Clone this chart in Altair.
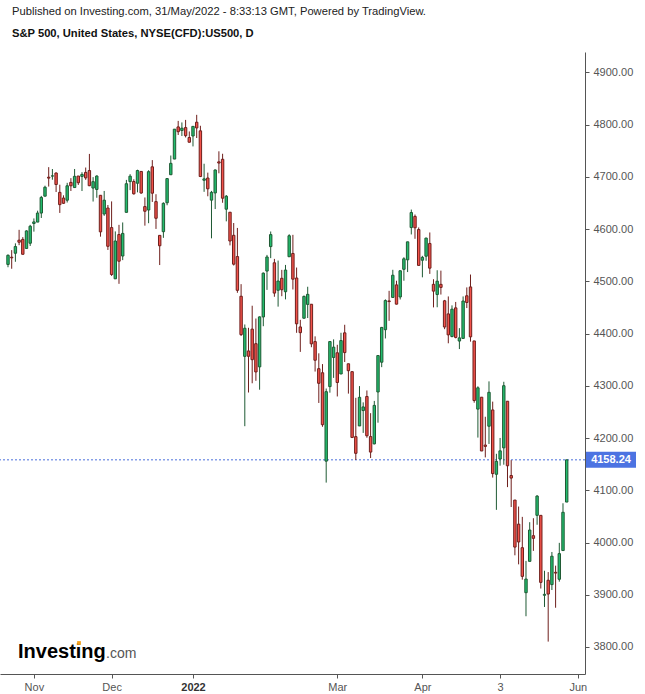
import altair as alt
import pandas as pd

# ---------------- data (S&P 500 daily) ----------------
dates = [
    "2021-10-21", "2021-10-22", "2021-10-25", "2021-10-26", "2021-10-27", "2021-10-28", "2021-10-29",
    "2021-11-01", "2021-11-02", "2021-11-03", "2021-11-04", "2021-11-05", "2021-11-08", "2021-11-09",
    "2021-11-10", "2021-11-11", "2021-11-12", "2021-11-15", "2021-11-16", "2021-11-17", "2021-11-18",
    "2021-11-19", "2021-11-22", "2021-11-23", "2021-11-24", "2021-11-26", "2021-11-29", "2021-11-30",
    "2021-12-01", "2021-12-02", "2021-12-03", "2021-12-06", "2021-12-07", "2021-12-08", "2021-12-09",
    "2021-12-10", "2021-12-13", "2021-12-14", "2021-12-15", "2021-12-16", "2021-12-17", "2021-12-20",
    "2021-12-21", "2021-12-22", "2021-12-23", "2021-12-27", "2021-12-28", "2021-12-29", "2021-12-30",
    "2021-12-31",
    "2022-01-03", "2022-01-04", "2022-01-05", "2022-01-06", "2022-01-07", "2022-01-10", "2022-01-11",
    "2022-01-12", "2022-01-13", "2022-01-14", "2022-01-18", "2022-01-19", "2022-01-20", "2022-01-21",
    "2022-01-24", "2022-01-25", "2022-01-26", "2022-01-27", "2022-01-28", "2022-01-31",
    "2022-02-01", "2022-02-02", "2022-02-03", "2022-02-04", "2022-02-07", "2022-02-08", "2022-02-09",
    "2022-02-10", "2022-02-11", "2022-02-14", "2022-02-15", "2022-02-16", "2022-02-17", "2022-02-18",
    "2022-02-22", "2022-02-23", "2022-02-24", "2022-02-25", "2022-02-28",
    "2022-03-01", "2022-03-02", "2022-03-03", "2022-03-04", "2022-03-07", "2022-03-08", "2022-03-09",
    "2022-03-10", "2022-03-11", "2022-03-14", "2022-03-15", "2022-03-16", "2022-03-17", "2022-03-18",
    "2022-03-21", "2022-03-22", "2022-03-23", "2022-03-24", "2022-03-25", "2022-03-28", "2022-03-29",
    "2022-03-30", "2022-03-31",
    "2022-04-01", "2022-04-04", "2022-04-05", "2022-04-06", "2022-04-07", "2022-04-08", "2022-04-11",
    "2022-04-12", "2022-04-13", "2022-04-14", "2022-04-18", "2022-04-19", "2022-04-20", "2022-04-21",
    "2022-04-22", "2022-04-25", "2022-04-26", "2022-04-27", "2022-04-28", "2022-04-29",
    "2022-05-02", "2022-05-03", "2022-05-04", "2022-05-05", "2022-05-06", "2022-05-09", "2022-05-10",
    "2022-05-11", "2022-05-12", "2022-05-13", "2022-05-16", "2022-05-17", "2022-05-18", "2022-05-19",
    "2022-05-20", "2022-05-23", "2022-05-24", "2022-05-25", "2022-05-26", "2022-05-27",
]

opens = [
    4532.24, 4546.12, 4553.69, 4578.69, 4580.22, 4562.84, 4572.87,
    4610.62, 4613.34, 4630.65, 4662.93, 4699.26, 4701.48, 4707.25,
    4670.26, 4659.39, 4655.24, 4689.30, 4679.42, 4701.50, 4700.72,
    4708.44, 4712.00, 4678.48, 4675.78, 4664.63, 4628.75, 4640.25,
    4602.82, 4504.73, 4589.49, 4548.37, 4631.97, 4690.86, 4691.00,
    4687.64, 4710.30, 4642.99, 4636.46, 4719.13, 4652.50, 4587.90,
    4594.96, 4650.36, 4703.96, 4733.99, 4795.49, 4788.64, 4794.23,
    4775.21,
    4778.14, 4804.51, 4787.99, 4693.39, 4697.66, 4655.34, 4669.14,
    4728.59, 4733.56, 4637.99, 4632.24, 4588.03, 4547.35, 4471.38,
    4356.32, 4366.64, 4408.43, 4380.58, 4336.19, 4431.79,
    4519.57, 4566.39, 4535.41, 4482.79, 4505.75, 4480.02, 4547.00,
    4553.24, 4506.27, 4412.61, 4429.28, 4455.75, 4456.06, 4384.57,
    4332.74, 4324.93, 4155.77, 4298.38, 4354.17,
    4363.14, 4322.56, 4401.31, 4342.12, 4327.01, 4202.66, 4223.10,
    4252.55, 4279.50, 4202.75, 4188.82, 4288.14, 4345.11, 4407.34,
    4462.40, 4469.10, 4493.10, 4469.98, 4522.91, 4541.09, 4602.86,
    4624.20, 4599.02,
    4540.32, 4547.97, 4572.45, 4494.17, 4474.65, 4494.15, 4462.64,
    4437.59, 4394.30, 4449.12, 4385.63, 4390.63, 4472.26, 4489.17,
    4385.83, 4255.34, 4278.14, 4186.52, 4222.58, 4253.75,
    4130.61, 4159.78, 4181.18, 4270.43, 4128.17, 4081.27, 4035.18,
    3990.08, 3903.95, 3963.90, 4013.02, 4052.00, 4051.98, 3899.00,
    3927.76, 3919.42, 3942.94, 3929.59, 3984.60, 4077.43,
]

highs = [
    4551.44, 4559.67, 4572.62, 4598.53, 4584.57, 4597.55, 4608.08,
    4620.34, 4635.15, 4663.46, 4683.00, 4718.50, 4714.92, 4708.53,
    4684.85, 4664.55, 4688.47, 4697.42, 4714.95, 4701.50, 4708.80,
    4717.75, 4743.83, 4699.39, 4702.87, 4664.63, 4672.95, 4646.02,
    4652.94, 4595.46, 4608.03, 4612.60, 4694.04, 4705.06, 4695.26,
    4713.57, 4710.30, 4660.47, 4712.60, 4731.99, 4666.70, 4587.90,
    4651.14, 4697.67, 4740.74, 4791.49, 4807.02, 4804.06, 4808.93,
    4786.83,
    4796.64, 4818.62, 4797.70, 4725.01, 4707.95, 4673.02, 4714.13,
    4748.83, 4744.13, 4665.13, 4632.24, 4611.55, 4602.11, 4494.52,
    4417.35, 4411.01, 4453.23, 4428.74, 4432.72, 4516.89,
    4550.49, 4595.31, 4542.88, 4539.66, 4521.86, 4531.32, 4590.03,
    4588.92, 4526.33, 4426.22, 4472.77, 4489.55, 4456.06, 4394.60,
    4362.12, 4341.51, 4294.73, 4385.34, 4388.84,
    4378.45, 4401.48, 4416.78, 4342.12, 4327.01, 4276.94, 4299.40,
    4268.28, 4291.01, 4247.57, 4271.05, 4357.86, 4412.67, 4465.40,
    4481.75, 4522.00, 4501.07, 4520.58, 4546.03, 4575.65, 4637.30,
    4627.77, 4603.07,
    4548.70, 4583.50, 4593.45, 4503.94, 4521.16, 4520.41, 4464.35,
    4471.00, 4453.92, 4460.46, 4410.31, 4471.03, 4488.29, 4512.94,
    4385.83, 4299.02, 4278.14, 4240.71, 4308.45, 4269.68,
    4169.81, 4200.10, 4307.66, 4270.43, 4157.69, 4081.27, 4068.82,
    4049.09, 3964.80, 4038.88, 4046.46, 4090.72, 4051.98, 3945.96,
    3943.42, 3981.88, 3955.68, 3999.33, 4075.14, 4158.49,
]

lows = [
    4526.89, 4524.00, 4537.36, 4569.17, 4551.66, 4562.84, 4567.59,
    4595.06, 4613.34, 4621.19, 4662.59, 4681.32, 4694.39, 4670.87,
    4630.86, 4648.31, 4650.77, 4672.86, 4679.42, 4684.41, 4672.78,
    4694.22, 4682.17, 4652.66, 4659.89, 4585.43, 4625.26, 4560.00,
    4510.27, 4504.73, 4495.12, 4540.51, 4631.97, 4674.52, 4665.98,
    4670.24, 4667.60, 4606.52, 4611.22, 4651.89, 4600.22, 4531.10,
    4583.16, 4645.53, 4703.96, 4733.99, 4780.04, 4778.08, 4775.33,
    4765.75,
    4758.17, 4774.27, 4699.44, 4671.26, 4662.74, 4582.24, 4638.27,
    4706.71, 4650.29, 4614.75, 4568.70, 4530.20, 4477.95, 4395.34,
    4222.62, 4287.11, 4304.80, 4309.50, 4292.46, 4414.02,
    4483.53, 4544.32, 4470.39, 4451.50, 4471.47, 4465.40, 4547.00,
    4484.31, 4401.41, 4364.84, 4429.28, 4429.68, 4373.81, 4327.22,
    4267.11, 4221.51, 4114.65, 4286.83, 4315.12,
    4279.54, 4322.56, 4345.56, 4284.98, 4199.85, 4157.87, 4223.10,
    4209.80, 4200.49, 4161.72, 4187.90, 4229.34, 4335.65, 4390.57,
    4424.30, 4469.10, 4455.81, 4465.17, 4501.07, 4517.69, 4589.66,
    4581.32, 4530.41,
    4507.57, 4539.21, 4514.17, 4450.04, 4450.30, 4474.60, 4408.38,
    4381.34, 4392.70, 4390.77, 4370.30, 4390.63, 4448.76, 4384.47,
    4267.62, 4200.82, 4175.04, 4162.90, 4188.63, 4124.28,
    4062.51, 4147.08, 4148.91, 4106.01, 4067.91, 3975.48, 3958.17,
    3928.82, 3858.87, 3963.90, 3983.99, 4033.93, 3911.91, 3876.58,
    3810.32, 3909.04, 3875.13, 3925.03, 3984.60, 4077.43,
]

closes = [
    4549.78, 4544.90, 4566.48, 4574.79, 4551.68, 4596.42, 4605.38,
    4613.67, 4630.65, 4660.57, 4680.06, 4697.53, 4701.70, 4685.25,
    4646.71, 4649.27, 4682.85, 4682.80, 4700.90, 4688.67, 4704.54,
    4697.96, 4682.94, 4690.70, 4701.46, 4594.62, 4655.27, 4567.00,
    4513.04, 4577.10, 4538.43, 4591.67, 4686.75, 4701.21, 4667.45,
    4712.02, 4668.97, 4634.09, 4709.85, 4668.67, 4620.64, 4568.02,
    4649.23, 4696.56, 4725.79, 4791.19, 4786.35, 4793.06, 4778.73,
    4766.18,
    4796.56, 4793.54, 4700.58, 4696.05, 4677.03, 4670.29, 4713.07,
    4726.35, 4659.03, 4662.85, 4577.11, 4532.76, 4482.73, 4397.94,
    4410.13, 4356.45, 4349.93, 4326.51, 4431.85, 4515.55,
    4546.54, 4589.38, 4477.44, 4500.53, 4483.87, 4521.54, 4587.18,
    4504.08, 4418.64, 4401.67, 4471.07, 4475.01, 4380.26, 4348.87,
    4304.76, 4225.50, 4288.70, 4384.65, 4373.94,
    4306.26, 4386.54, 4363.49, 4328.87, 4201.09, 4170.70, 4277.88,
    4259.52, 4204.31, 4173.11, 4262.45, 4357.86, 4411.67, 4463.12,
    4461.18, 4511.61, 4456.24, 4520.16, 4543.06, 4575.52, 4631.60,
    4602.45, 4530.41,
    4545.86, 4582.64, 4525.12, 4481.15, 4500.21, 4488.28, 4412.53,
    4397.45, 4446.59, 4392.59, 4391.69, 4462.21, 4459.45, 4393.66,
    4271.78, 4296.12, 4175.20, 4183.96, 4287.50, 4131.93,
    4155.38, 4175.48, 4300.17, 4146.87, 4123.34, 3991.24, 4001.05,
    3935.18, 3930.08, 4023.89, 4008.01, 4088.85, 3923.68, 3900.79,
    3901.36, 3973.75, 3941.48, 3978.73, 4057.84, 4158.24,
]

# x axis: bar index of each month label
month_ticks = [7, 28, 50, 89, 112, 133, 154]
month_labels = ["Nov", "Dec", "2022", "Mar", "Apr", "3", "Jun"]
y_ticks = [3800, 3900, 4000, 4100, 4200, 4300, 4400, 4500, 4600, 4700, 4800, 4900]
last_price = [4158.24]

header_lines = ["Published on Investing.com, 31/May/2022 - 8:33:13 GMT, Powered by TradingView."]
chart_title = ["S&P 500, United States, NYSE(CFD):US500, D"]
logo_main = ["Investing"]
logo_suffix = [".com"]

# ---------------- build tables ----------------
df = pd.DataFrame({
    "date": dates,
    "open": opens,
    "high": highs,
    "low": lows,
    "close": closes,
})
df["idx"] = range(len(df))
df["dir"] = ["up" if c >= o else "down" for o, c in zip(opens, closes)]

price_df = pd.DataFrame({"price": last_price, "label": [f"{p:.2f}" for p in last_price]})

FONT = "Liberation Sans, Arial, sans-serif"
UP_FILL, DOWN_FILL = "#22bd6e", "#f2524a"
UP_EDGE, DOWN_EDGE = "#1f5a34", "#6e1f1c"
AXIS_C = "#555555"

xs = alt.Scale(domain=[-2.162, 155.946], nice=False, zero=False, padding=0)
ys = alt.Scale(domain=[3748.3, 4938.9], nice=False, zero=False, padding=0)

label_expr = " : ".join(
    f"datum.value == {v} ? '{t}'" for v, t in zip(month_ticks, month_labels)
) + " : ''"

x_axis = alt.Axis(
    values=month_ticks,
    labelExpr=label_expr,
    grid=False,
    title=None,
    domainColor=AXIS_C,
    tickColor=AXIS_C,
    tickSize=4,
    labelFontSize=11,
    labelFont=FONT,
    labelPadding=3,
    labelFlush=False,
    labelOverlap=False,
    labelColor={"condition": {"test": "datum.value == 50", "value": "#333333"}, "value": "#555555"},
    labelFontWeight={"condition": {"test": "datum.value == 50", "value": "bold"}, "value": "normal"},
)

y_axis = alt.Axis(
    orient="right",
    values=y_ticks,
    format=".2f",
    grid=False,
    title=None,
    domainColor=AXIS_C,
    tickColor=AXIS_C,
    tickSize=4,
    labelColor="#555555",
    labelFontSize=11,
    labelFont=FONT,
    labelPadding=4,
    labelOverlap=False,
)

X = alt.X("idx:Q", scale=xs, axis=x_axis)
edge_scale = alt.Scale(domain=["up", "down"], range=[UP_EDGE, DOWN_EDGE])
fill_scale = alt.Scale(domain=["up", "down"], range=[UP_FILL, DOWN_FILL])

wicks = alt.Chart(df).mark_rule(strokeWidth=1).encode(
    x=X,
    y=alt.Y("low:Q", scale=ys, axis=y_axis),
    y2="high:Q",
    stroke=alt.Stroke("dir:N", scale=edge_scale, legend=None),
)

bodies = alt.Chart(df).mark_bar(size=2.4, strokeWidth=1).encode(
    x=X,
    y=alt.Y("open:Q", scale=ys, axis=y_axis),
    y2="close:Q",
    color=alt.Color("dir:N", scale=fill_scale, legend=None),
    stroke=alt.Stroke("dir:N", scale=edge_scale, legend=None),
)

price_line = alt.Chart(price_df).mark_rule(
    color="#4a6fdc", strokeWidth=1, strokeDash=[2, 2]
).encode(
    y=alt.Y("price:Q", scale=ys, axis=y_axis),
)

price_box = alt.Chart(price_df).mark_rect(
    color="#4c73e2", yOffset=-8, y2Offset=8
).encode(
    x=alt.value(586),
    x2=alt.value(636),
    y=alt.Y("price:Q", scale=ys, axis=y_axis),
    y2="price:Q",
)

price_text = alt.Chart(price_df).mark_text(
    color="white", fontWeight="bold", fontSize=11, font=FONT, align="center", baseline="middle"
).encode(
    x=alt.value(611),
    y=alt.Y("price:Q", scale=ys, axis=y_axis),
    text="label:N",
)

header = alt.Chart(pd.DataFrame({"t": header_lines})).mark_text(
    align="left", baseline="alphabetic", fontSize=11.2, font=FONT, color="#222222"
).encode(x=alt.value(12), y=alt.value(-37.5), text="t:N")

title = alt.Chart(pd.DataFrame({"t": chart_title})).mark_text(
    align="left", baseline="alphabetic", fontSize=11.2, font=FONT, fontWeight="bold", color="#111111"
).encode(x=alt.value(12), y=alt.value(-14.7), text="t:N")

logo1 = alt.Chart(pd.DataFrame({"t": logo_main})).mark_text(
    align="left", baseline="alphabetic", fontSize=20, font=FONT, fontWeight="bold", color="#000000"
).encode(x=alt.value(18), y=alt.value(606), text="t:N")

logo2 = alt.Chart(pd.DataFrame({"t": logo_suffix})).mark_text(
    align="left", baseline="alphabetic", fontSize=14, font=FONT, color="#555555"
).encode(x=alt.value(106), y=alt.value(606), text="t:N")

logo_dot = alt.Chart(pd.DataFrame({"t": logo_main})).mark_square(
    color="#f5a01a", opacity=1, size=14, filled=True
).encode(x=alt.value(79), y=alt.value(591))

chart = alt.layer(
    price_line, wicks, bodies, price_box, price_text, header, title, logo1, logo2, logo_dot
).properties(
    width=585,
    height=622,
    autosize=alt.AutoSizeParams(type="none"),
    padding={"left": 0, "top": 52, "right": 60, "bottom": 20},
).configure(
    background="white",
    font=FONT,
).configure_view(
    stroke=None
)

chart.save("out.html", embed_options={"renderer": "svg", "actions": False})
